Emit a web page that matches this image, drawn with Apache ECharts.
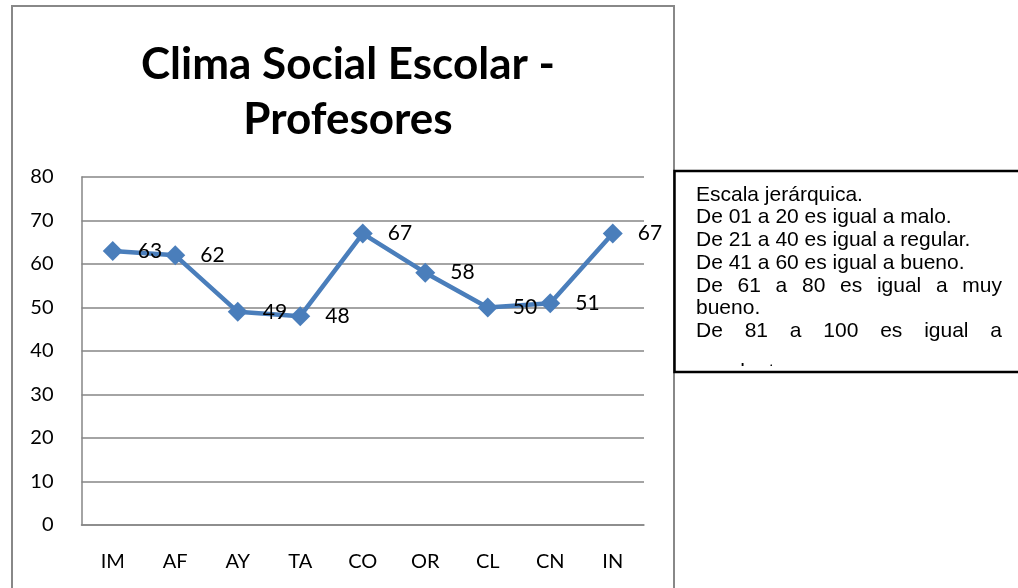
<!DOCTYPE html>
<html><head><meta charset="utf-8">
<script src="https://cdn.jsdelivr.net/npm/echarts@6/dist/echarts.min.js"></script>
<style>html,body{margin:0;padding:0;background:#fff}#c{width:1018px;height:588px}</style>
</head><body><div id="c"></div>
<script>
const categories = ['IM','AF','AY','TA','CO','OR','CL','CN','IN'];
const values = [63,62,49,48,67,58,50,51,67];
const yTicks = {min:0, max:80, interval:10};
const titleText = 'Clima Social Escolar -\nProfesores';
const noteLines = [
  {t:'Escala jerárquica.', j:false},
  {t:'De 01 a 20 es igual a malo.', j:false},
  {t:'De 21 a 40 es igual a regular.', j:false},
  {t:'De 41 a 60 es igual a bueno.', j:false},
  {t:'De 61 a 80 es igual a muy', j:true},
  {t:'bueno.', j:false},
  {t:'De 81 a 100 es igual a', j:true},
  {t:'excelente.', j:false}
];

const noteFont = '21px "Liberation Sans", Arial, sans-serif';
const cv = document.createElement('canvas').getContext('2d');
cv.font = noteFont;
const noteLeft = 696, noteRight = 1002, noteMid0 = 195, noteStep = 22.7;
const noteEls = [];
noteLines.forEach((ln, i) => {
  // last (clipped) line sits lower, only its ascenders peek above the box edge
  const y = (i === noteLines.length - 1) ? 372.5 : noteMid0 + i * noteStep;
  const words = ln.j ? ln.t.split(' ') : [ln.t];
  const widths = words.map(w => cv.measureText(w).width);
  const total = widths.reduce((a,b)=>a+b,0);
  const gap = words.length > 1 ? (noteRight - noteLeft - total) / (words.length - 1) : 0;
  let x = noteLeft;
  words.forEach((w, k) => {
    noteEls.push({type:'text', x:x, y:y, z:101,
      style:{text:w, font:noteFont, fill:'#000', align:'left', verticalAlign:'middle'}});
    x += widths[k] + gap;
  });
});

const chart = echarts.init(document.getElementById('c'), null, {renderer:'canvas'});
const baseFont = 'Lato, "Open Sans", sans-serif';
chart.setOption({
  backgroundColor:'#fff',
  animation:false,
  title:{
    text:titleText, left:343, top:32, textAlign:'center',
    textStyle:{fontFamily:baseFont, fontWeight:'bold', fontSize:44, lineHeight:55, color:'#000'}
  },
  grid:{left:81.5, right:374, top:177, bottom:63, containLabel:false},
  xAxis:{
    type:'category', data:categories, boundaryGap:true,
    axisLine:{lineStyle:{color:'#868686', width:1.5}},
    axisTick:{show:false},
    axisLabel:{fontFamily:baseFont, fontSize:20, color:'#000', margin:27},
    splitLine:{show:false}
  },
  yAxis:{
    type:'value', min:yTicks.min, max:yTicks.max, interval:yTicks.interval,
    axisLine:{show:true, lineStyle:{color:'#868686', width:1.5}},
    axisTick:{show:false},
    axisLabel:{fontFamily:baseFont, fontSize:20, color:'#000', margin:28},
    splitLine:{show:true, lineStyle:{color:'#868686', width:1.5}}
  },
  series:[{
    type:'line', data:values,
    symbol:'diamond', symbolSize:20,
    lineStyle:{color:'#4a7ebb', width:4.5},
    itemStyle:{color:'#4a7ebb'},
    label:{show:true, position:'right', distance:15, fontFamily:baseFont, fontSize:21, color:'#000'},
    z:3
  }],
  graphic:[
    {type:'rect', shape:{x:12, y:6, width:662, height:620}, z:100, style:{fill:'none', stroke:'#888', lineWidth:2}},
    {type:'rect', shape:{x:674, y:171, width:360, height:201}, z:100, style:{fill:'#fff', stroke:'none'}},
    ...noteEls,
    {type:'rect', shape:{x:676, y:366, width:350, height:30}, z:102, style:{fill:'#fff', stroke:'none'}},
    {type:'rect', shape:{x:674.5, y:171, width:360, height:201}, z:103, style:{fill:'none', stroke:'#000', lineWidth:2.5}}
  ]
});
</script></body></html>
